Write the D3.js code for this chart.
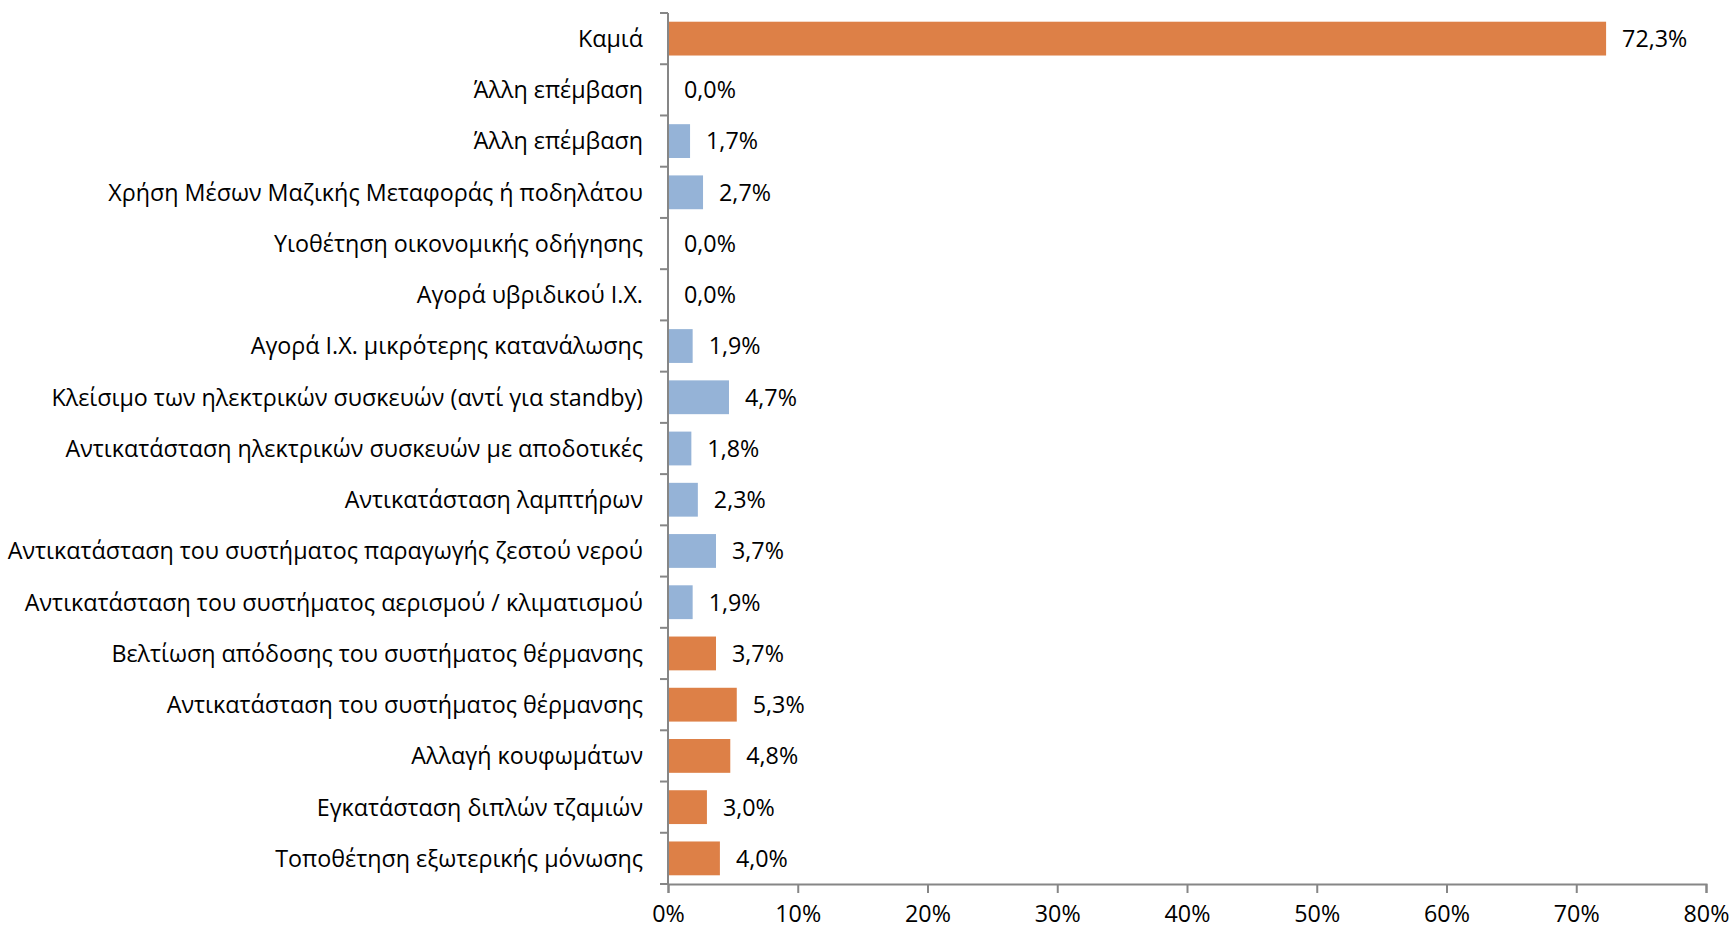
<!DOCTYPE html>
<html>
<head>
<meta charset="utf-8">
<script src="https://cdn.jsdelivr.net/npm/d3@7"></script>
<style>
  body { margin: 0; background: #fff; }
  text { font-family: "Open Sans", "Noto Sans", sans-serif; fill: #000; }
</style>
</head>
<body>
<div id="chart"></div>
<script>
// Chart data (top to bottom)
let categories = [
  'Καμιά',
  'Άλλη επέμβαση',
  'Άλλη επέμβαση',
  'Χρήση Μέσων Μαζικής Μεταφοράς ή ποδηλάτου',
  'Υιοθέτηση οικονομικής οδήγησης',
  'Αγορά υβριδικού Ι.Χ.',
  'Αγορά Ι.Χ. μικρότερης κατανάλωσης',
  'Κλείσιμο των ηλεκτρικών συσκευών (αντί για standby)',
  'Αντικατάσταση ηλεκτρικών συσκευών με αποδοτικές',
  'Αντικατάσταση λαμπτήρων',
  'Αντικατάσταση του συστήματος παραγωγής ζεστού νερού',
  'Αντικατάσταση του συστήματος αερισμού / κλιματισμού',
  'Βελτίωση απόδοσης του συστήματος θέρμανσης',
  'Αντικατάσταση του συστήματος θέρμανσης',
  'Αλλαγή κουφωμάτων',
  'Εγκατάσταση διπλών τζαμιών',
  'Τοποθέτηση εξωτερικής μόνωσης'
];
let values = [72.3, 0.0, 1.7, 2.7, 0.0, 0.0, 1.9, 4.7, 1.8, 2.3, 3.7, 1.9, 3.7, 5.3, 4.8, 3.0, 4.0];
// series group: 'b' = building (orange), 'e' = equipment / transport (blue)
let groups = ['b', 'b', 'e', 'e', 'e', 'e', 'e', 'e', 'e', 'e', 'e', 'e', 'b', 'b', 'b', 'b', 'b'];
let xTicks = [0, 10, 20, 30, 40, 50, 60, 70, 80];

let svgWidth = 1731;
let svgHeight = 930;

let margin = { top: 13, right: 25, bottom: 46, left: 668 };
let width = svgWidth - margin.left - margin.right;
let height = svgHeight - margin.top - margin.bottom;

let colors = { b: '#DD8047', e: '#95B3D7' };
let axisColor = '#868686';
let fontSize = '23.3px';

let svg = d3.select('#chart')
  .append('svg')
  .attr('width', svgWidth)
  .attr('height', svgHeight);

let chartGroup = svg.append('g')
  .attr('transform', `translate(${margin.left}, ${margin.top})`);

let data = values.map((v, i) => ({ idx: i, name: categories[i], value: v, group: groups[i] }));

// scales
let xScale = d3.scaleLinear()
  .domain([0, 80])
  .range([0, width]);

let yScale = d3.scaleBand()
  .domain(data.map(d => d.idx))
  .range([0, height])
  .paddingInner(0.34)
  .paddingOuter(0.17);

// bars
chartGroup.selectAll('rect.bar')
  .data(data)
  .enter()
  .append('rect')
  .attr('class', 'bar')
  .attr('x', 1)
  .attr('y', d => yScale(d.idx))
  .attr('width', d => Math.max(0, xScale(d.value) - 1))
  .attr('height', yScale.bandwidth())
  .attr('fill', d => colors[d.group]);

// value labels
chartGroup.selectAll('text.val')
  .data(data)
  .enter()
  .append('text')
  .attr('class', 'val')
  .attr('x', d => xScale(d.value) + 16)
  .attr('y', d => yScale(d.idx) + yScale.bandwidth() / 2)
  .attr('dy', '0.36em')
  .attr('font-size', fontSize)
  .text(d => d.value.toFixed(1).replace('.', ',') + '%');

// x axis
let bottomAxis = d3.axisBottom(xScale)
  .tickValues(xTicks)
  .tickSize(9)
  .tickPadding(12)
  .tickFormat(d => d + '%');

let xAxis = chartGroup.append('g')
  .attr('transform', `translate(0, ${height})`)
  .call(bottomAxis);

xAxis.select('.domain').attr('stroke', axisColor).attr('stroke-width', 2);
xAxis.selectAll('.tick line').attr('stroke', axisColor).attr('stroke-width', 2);
xAxis.selectAll('.tick text')
  .attr('font-size', fontSize)
  .attr('font-family', '"Open Sans", "Noto Sans", sans-serif')
  .attr('fill', '#000');

// y axis: category ticks at band boundaries
let boundaries = d3.range(categories.length + 1).map(i => i * height / categories.length);

chartGroup.append('line')
  .attr('x1', 0).attr('x2', 0)
  .attr('y1', 0).attr('y2', height)
  .attr('stroke', axisColor)
  .attr('stroke-width', 2);

chartGroup.selectAll('line.ytick')
  .data(boundaries)
  .enter()
  .append('line')
  .attr('class', 'ytick')
  .attr('x1', -8).attr('x2', 0)
  .attr('y1', d => d).attr('y2', d => d)
  .attr('stroke', axisColor)
  .attr('stroke-width', 2);

// category labels
chartGroup.selectAll('text.cat')
  .data(data)
  .enter()
  .append('text')
  .attr('class', 'cat')
  .attr('x', -25)
  .attr('y', d => yScale(d.idx) + yScale.bandwidth() / 2)
  .attr('dy', '0.36em')
  .attr('text-anchor', 'end')
  .attr('font-size', fontSize)
  .text(d => d.name);
</script>
</body>
</html>
